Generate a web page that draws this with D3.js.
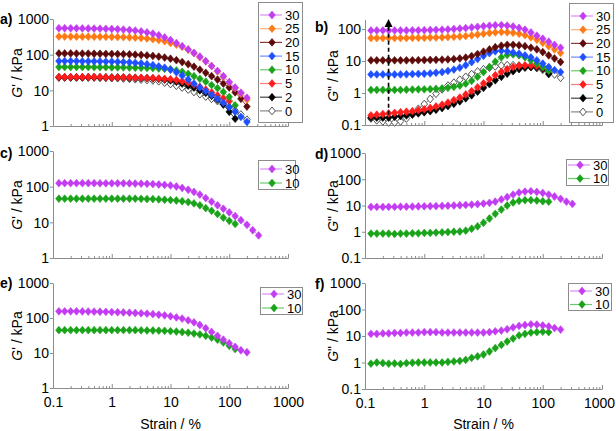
<!DOCTYPE html>
<html><head><meta charset="utf-8">
<script src="https://cdn.jsdelivr.net/npm/d3@7"></script>
<style>
body{margin:0;background:#fff}
svg{display:block}
text{font-family:"Liberation Sans",Arial,Helvetica,sans-serif}
</style>
</head><body>
<svg id="chart" width="616" height="431"></svg>
<script>
// ---------- DATA ----------
const strain = [0.126,0.158,0.2,0.251,0.316,0.398,0.501,0.631,0.794,1,1.26,1.58,2,2.51,3.16,3.98,5.01,6.31,7.94,10,12.6,15.8,20,25.1,31.6,39.8,50.1,63.1,79.4,100,126,158,200,251,316];
const xTicks = [0.1,1,10,100,1000];
const yTicksG1 = [1,10,100,1000];
const yTicksG2b = [0.1,1,10,100];
const yTicksG2 = [0.1,1,10,100,1000];
const seriesNames = ["30","25","20","15","10","5","2","0"];

// panel a: G' (kPa)
const a30 = [550,550,548,546,544,541,538,534,530,524,516,506,492,474,452,424,390,350,305,258,212,174,140,112,88,66,48,35,25,17,12,8.6,6.2];
const a25 = [322,322,321,320,320,319,318,317,316,314,312,309,305,300,293,284,272,257,238,212,190,165,138,110,85,65,48,34,24,16.5,11.5,8,5.5];
const a20 = [108,108,108,107,107,107,106,106,105,105,104,103,102,100,98,95,92,88,83,77,70,62,54,46,38,31,25,20,15.5,12,8.8,5.8,3.5];
const a15 = [66,66,66,66,65,65,65,65,64,64,63,62,61,59,57,54,51,47,43,38,32,26,20,15.5,12,9.5,7.5,5.8,4.5,3.4,2.5,1.8,1.3];
const a10 = [45,45,45,45,45,45,44.5,44.5,44.5,44,44,44,43.5,43,43,42.5,42,41,40,39,36,33,29,25,21,17.5,14,11.5,9,6.5,3.8];
const a5  = [23.5,23.5,23.5,23.5,23.5,23.5,23.5,23.5,23,23,23,23,23,22.5,22.5,22,22,21.5,21,20.5,19.5,18,16.5,14.5,12.5,10.5,8.7,7.2,6,5];
const a2  = [23,23,23,23,23,23,23,23,23,23,23,23,22.5,22.5,22,22,21.5,21,20,19,17.5,15.5,13.5,12,10,8.5,7,5.5,4,2.5,1.6];
const a0  = [23,23,23,23,23,23,23,22.5,22.5,22,22,21.5,21,20.5,20,19.5,19,18,16.5,15,13.5,12,10.5,9,7.8,6.7,5.8,5,4.2,3.4,2.7,2.1,1.5];

// panel b: G'' (kPa)
const b30 = [90,90,90,90,90,90,90,91,91,92,93,94,95,97,100,103,107,112,117,122,127,131,133,128,120,108,95,78,62,50,40,32,26];
const b25 = [52,52,52,52,52,52,52,53,53,53,54,54,55,56,57,58,60,63,67,71,75,78,80,79,76,71,64,55,46,37,29,23,18];
const b20 = [10.5,10.5,10.5,10.5,10.5,10.5,10.5,10.5,10.6,10.7,10.8,10.9,11,11.2,11.5,12,12.8,14.3,16.5,19.5,23,27,30,32,32,31,29,26,23,19,15,12,9.3];
const b15 = [3.8,3.8,3.8,3.8,3.8,3.8,3.85,3.9,3.95,4,4.1,4.3,4.5,4.9,5.4,6.2,7.4,9.2,11.5,14.5,17.5,20,21,20,18.5,17,15,13,10.5,8.3,6.5,5.2,4.5];
const b10 = [1.25,1.25,1.25,1.25,1.25,1.25,1.27,1.28,1.3,1.3,1.32,1.35,1.4,1.45,1.55,1.7,1.95,2.4,3.2,4.5,6.5,9.5,13,15.5,16,15,13,10.5,8.3,6.5,5];
const b5  = [0.2,0.21,0.22,0.23,0.24,0.25,0.26,0.27,0.29,0.31,0.34,0.38,0.43,0.5,0.6,0.72,0.9,1.15,1.5,2,2.7,3.6,4.6,5.6,6.5,7.1,7.3,7.3,7,6.3,5.3];
const b2  = [0.17,0.17,0.17,0.17,0.18,0.19,0.2,0.21,0.23,0.25,0.27,0.3,0.34,0.39,0.46,0.55,0.68,0.85,1.1,1.45,1.9,2.5,3.2,4,4.8,5.6,6.2,6.5,6.3,5.7,3.9];
const b0  = [0.16,0.14,0.13,0.12,0.12,0.13,0.16,0.22,0.32,0.45,0.65,0.95,1.3,1.7,2.1,2.6,3.2,3.9,4.7,5.5,6.2,6.8,7.2,7.4,7.4,7.2,6.9,6.5,6,5.3,4.6,3.8,3];

// panel c: G'
const c30 = [125,125,125,125,125,125,125,124,124,124,124,124,123,122,121,120,118,115,112,108,101,92,82,71,60,48,38,30,24,19,15,11.5,8.5,6,4.3];
const c10 = [46,46,46,46,46,46,46,46,46,46,46,46,46,46,45.5,45,45,44,43,42,41,39,37,34,30,25,21,17,13.5,11,9];
// panel d: G''
const d30 = [8.8,8.8,8.8,8.9,8.9,9,9,9.1,9.2,9.3,9.4,9.5,9.6,9.8,10,10.2,10.5,10.8,11.2,11.8,12.6,14,17,21,26,31,34,35,33,30,26,22,18,14,11.5];
const d10 = [0.85,0.85,0.85,0.85,0.82,0.85,0.85,0.87,0.87,0.9,0.9,0.93,0.95,0.97,1,1.02,1.1,1.3,1.6,2.2,3.2,4.8,7,10,13,15,16,16,15.5,14.5,14];
// panel e: G'
const e30 = [155,155,155,155,154,153,152,151,150,148,146,144,142,139,136,133,129,124,119,112,104,96,86,75,63,51,40,31,24,19,15,12,10.5];
const e10 = [45,45,45,45,45,45,45,45,45,45,45,45,45,45,44.5,44,44,43.5,43,42,41,39.5,38,36,34,31,27.5,24,20,16,13];
// panel f: G''
const f30 = [12,12,12.5,12.5,13,13,13.5,13.5,13.5,14,14,14,13.5,13.5,13.5,13.5,13.5,13.5,13.5,13.5,14,15,16,18,21,24,26,27.5,27,25,23,20,17.5];
const f10 = [0.9,1,0.95,0.9,0.92,0.88,0.95,0.98,1,1,1,1,1,1.05,1.1,1.15,1.25,1.5,1.7,2,2.6,3.5,4.6,6.2,8,10.5,12,13.5,14,14.5,14];

// ---------- STYLE ----------
const style = {
  "30": {fill:"#c23cf2", stroke:"#c23cf2", line:"#d98af8"},
  "25": {fill:"#ff7a14", stroke:"#ff7a14", line:"#ffb27a"},
  "20": {fill:"#5c0a0a", stroke:"#5c0a0a", line:"#8a3a3a"},
  "15": {fill:"#1e50ff", stroke:"#1e50ff", line:"#6f8cff"},
  "10": {fill:"#1aa31a", stroke:"#1aa31a", line:"#6acb6a"},
  "5":  {fill:"#ff1c1c", stroke:"#ff1c1c", line:"#ff7b7b"},
  "2":  {fill:"#000000", stroke:"#000000", line:"#444444"},
  "0":  {fill:"#ffffff", stroke:"#555555", line:"#8a8a8a"}
};
const axisColor = "#8c8c8c";

const svg = d3.select("#chart");
const diamond = "M0,-3.9L3.3,0L0,3.9L-3.3,0Z";

function zip(vals){ return vals.map((v,i)=>[strain[i], v]); }

const panels = [
  {lab:"a)", labX:0, labY:24, x0:53, x1:288, yTop:19, yBot:126, yDom:[1,1000], yTicks:yTicksG1, title:"'", titleX:17, titleY:73,
   series:[["0",a0],["2",a2],["5",a5],["10",a10],["15",a15],["20",a20],["25",a25],["30",a30]],
   legend:{x:258,y:2,w:44,h:120,first:15,step:13.7,lx:260,names:seriesNames}, xLabels:false},
  {lab:"b)", labX:315, labY:32, x0:365, x1:602, yTop:125-Math.log10(2000)*32, yBot:125, yDom:[0.1,200], yTicks:yTicksG2b, title:'"', titleX:333, titleY:76,
   series:[["0",b0],["2",b2],["5",b5],["10",b10],["15",b15],["20",b20],["25",b25],["30",b30]],
   legend:{x:569,y:3,w:44,h:119,first:16,step:13.7,lx:571,names:seriesNames}, xLabels:false, arrow:true},
  {lab:"c)", labX:0, labY:158, x0:53, x1:288, yTop:151, yBot:258, yDom:[1,1000], yTicks:yTicksG1, title:"'", titleX:17, titleY:205,
   series:[["10",c10],["30",c30]],
   legend:{x:258,y:160,w:37,h:29,first:169,step:14,lx:260,names:["30","10"]}, xLabels:false},
  {lab:"d)", labX:315, labY:159, x0:365, x1:602, yTop:153, yBot:258, yDom:[0.1,1000], yTicks:yTicksG2, title:'"', titleX:333, titleY:206,
   series:[["10",d10],["30",d30]],
   legend:{x:566,y:159,w:42,h:26,first:165,step:13.5,lx:568,names:["30","10"]}, xLabels:false},
  {lab:"e)", labX:0, labY:288, x0:53, x1:288, yTop:283, yBot:388, yDom:[1,1000], yTicks:yTicksG1, title:"'", titleX:17, titleY:336,
   series:[["10",e10],["30",e30]],
   legend:{x:260,y:287,w:42,h:27,first:294,step:14,lx:262,names:["30","10"]}, xLabels:true},
  {lab:"f)", labX:315, labY:289, x0:365, x1:602, yTop:283, yBot:389, yDom:[0.1,1000], yTicks:yTicksG2, title:'"', titleX:333, titleY:336,
   series:[["10",f10],["30",f30]],
   legend:{x:568,y:283,w:43,h:27,first:291,step:13.5,lx:570,names:["30","10"]}, xLabels:true, shiftLast:true}
];

const minorTicks = [];
[0.1,1,10,100].forEach(d=>{ for(let k=2;k<=9;k++) minorTicks.push(d*k); });

function styleAxis(sel){
  sel.select(".domain").attr("stroke",axisColor).attr("stroke-width",1);
  sel.selectAll(".tick line").attr("stroke",axisColor);
  sel.selectAll(".tick text").attr("fill","#000").style("font-size","14px").style("font-family",'"Liberation Sans",Arial,sans-serif');
}

panels.forEach(p=>{
  const x = d3.scaleLog().domain([0.1,1000]).range([p.x0,p.x1]);
  const y = d3.scaleLog().domain(p.yDom).range([p.yBot,p.yTop]);
  const g = svg.append("g");

  // x axis minor ticks
  g.append("g").attr("transform",`translate(0,${p.yBot})`)
    .call(d3.axisBottom(x).tickValues(minorTicks).tickSize(-2).tickSizeOuter(0).tickFormat(""))
    .call(styleAxis);
  // x axis major
  const xa = g.append("g").attr("transform",`translate(0,${p.yBot})`)
    .call(d3.axisBottom(x).tickValues(xTicks).tickSize(-4).tickSizeOuter(0).tickPadding(9)
      .tickFormat(p.xLabels ? (d=>String(d)) : ""))
    .call(styleAxis);
  if (p.shiftLast) {
    xa.selectAll(".tick text").filter(d=>d===1000).attr("dx","-3");
  }
  // y axis
  g.append("g").attr("transform",`translate(${p.x0},0)`)
    .call(d3.axisLeft(y).tickValues(p.yTicks).tickSize(3).tickSizeOuter(0).tickPadding(1).tickFormat(d=>String(d)))
    .call(styleAxis)
    .call(s=>s.selectAll(".tick text").attr("dy","0.34em"));

  // y title
  const t = g.append("text")
    .attr("transform",`translate(${p.titleX},${p.titleY}) rotate(-90)`)
    .attr("text-anchor","middle").attr("dy","0.35em")
    .style("font-size","14px");
  t.append("tspan").style("font-style","italic").text("G");
  t.append("tspan").text(p.title + " / kPa");

  // panel label
  g.append("text").attr("x",p.labX).attr("y",p.labY)
    .style("font-size","14px").style("font-weight","bold").text(p.lab);

  // x title
  if (p.xLabels) {
    g.append("text").attr("x",(p.x0+p.x1)/2).attr("y",429)
      .attr("text-anchor","middle").style("font-size","14px").text("Strain / %");
  }

  // series
  const line = d3.line().x(d=>x(d[0])).y(d=>y(d[1]));
  p.series.forEach(([name, vals])=>{
    const st = style[name];
    const pts = zip(vals);
    g.append("path").attr("d",line(pts)).attr("fill","none")
      .attr("stroke",st.line).attr("stroke-width",1);
    g.selectAll(null).data(pts).enter().append("path")
      .attr("d",diamond)
      .attr("transform",d=>`translate(${x(d[0])},${y(d[1])})`)
      .attr("fill",st.fill).attr("stroke",st.stroke).attr("stroke-width",name==="0"?1:0.6);
  });

  // arrow (panel b)
  if (p.arrow) {
    const ax = x(0.25);
    g.append("line").attr("x1",ax).attr("x2",ax).attr("y1",y(0.21)).attr("y2",27)
      .attr("stroke","#000").attr("stroke-width",1.6).attr("stroke-dasharray","4,3");
    g.append("path").attr("d",`M${ax},19L${ax+4},27L${ax-4},27Z`).attr("fill","#000");
  }

  // legend
  const L = p.legend;
  const lg = g.append("g");
  lg.append("rect").attr("x",L.x+0.5).attr("y",L.y+0.5).attr("width",L.w).attr("height",L.h)
    .attr("fill","#fff").attr("stroke",axisColor).attr("stroke-width",1);
  L.names.forEach((n,i)=>{
    const st = style[n];
    const yy = L.first + i*L.step;
    lg.append("line").attr("x1",L.lx).attr("x2",L.lx+22).attr("y1",yy).attr("y2",yy)
      .attr("stroke",st.line).attr("stroke-width",1.2);
    lg.append("path").attr("d",diamond).attr("transform",`translate(${L.lx+12},${yy})`)
      .attr("fill",st.fill).attr("stroke",st.stroke).attr("stroke-width",n==="0"?1:0.6);
    lg.append("text").attr("x",L.lx+25).attr("y",yy).attr("dy","0.36em")
      .style("font-size","13px").text(n);
  });
});
</script>
</body></html>
